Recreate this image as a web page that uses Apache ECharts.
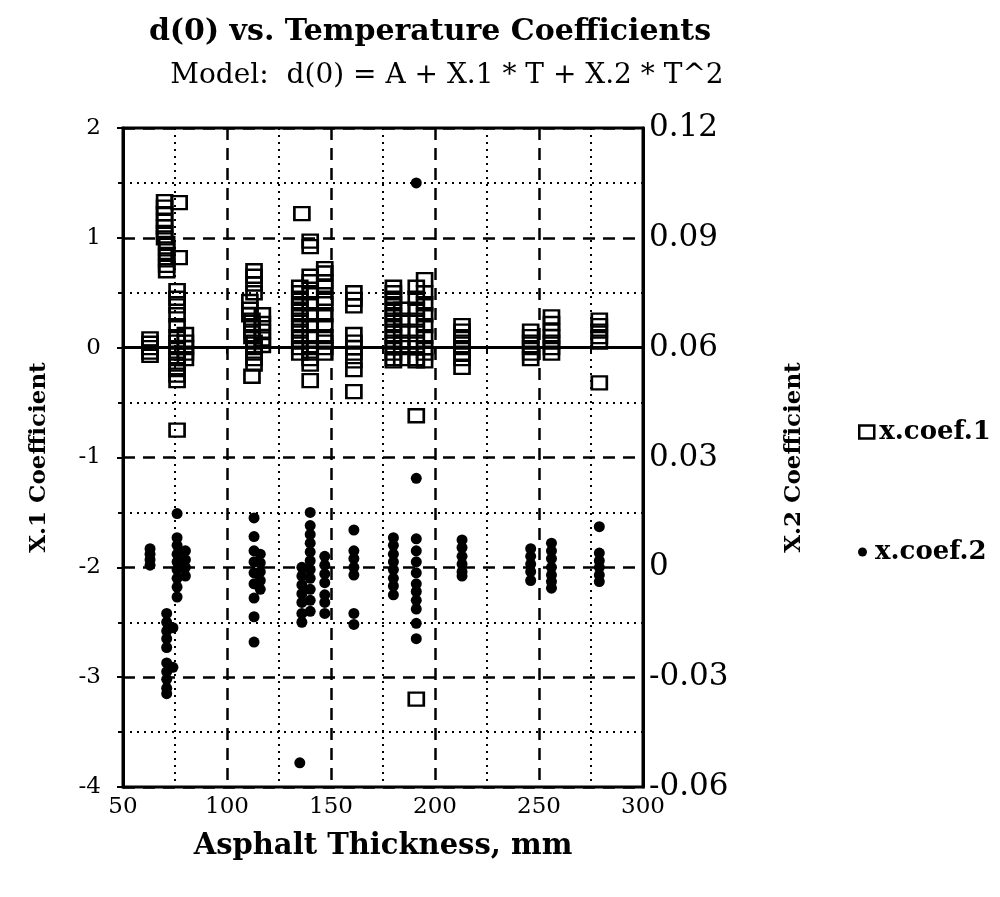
<!DOCTYPE html>
<html>
<head>
<meta charset="utf-8">
<script src="https://cdn.jsdelivr.net/npm/echarts@6/dist/echarts.min.js"></script>
<style>
html,body{margin:0;padding:0;background:#fff;}
#chart{width:1000px;height:897px;}
</style>
</head>
<body>
<div id="chart"></div>
<script>
// ---- data ----
const titleText = 'd(0) vs. Temperature Coefficients';
const subtitleText = 'Model:  d(0) = A + X.1 * T + X.2 * T^2';
const xTicks = [50, 100, 150, 200, 250, 300];
const leftTicks = [-4, -3, -2, -1, 0, 1, 2];
const rightTicks = [-0.06, -0.03, 0, 0.03, 0.06, 0.09, 0.12];

// x.coef.1 (left axis) : [thickness mm, coefficient]
const coef1_63  = [[63,0.08],[63,0.04],[63,0.0],[63,-0.04],[63,-0.07]];
const coef1_70  = [[70,1.33],[70,1.28],[70,1.22],[70,1.15],[70,1.1],[70,1.05],[70,1.0],[71,0.95],[71,0.9],[71,0.85],[71,0.8],[71,0.75],[71,0.7]];
const coef1_76  = [[77,1.32],[77,0.82],[76,0.52],[76,0.45],[76,0.38],[76,0.3],[76,0.2],[76,0.1],[76,0.05],[76,0.0],[76,-0.05],[76,-0.1],[76,-0.15],[76,-0.2],[76,-0.25],[76,-0.3],[76,-0.75]];
const coef1_80  = [[80,0.12],[80,0.05],[80,0.0],[80,-0.05],[80,-0.1]];
const coef1_113 = [[113,0.7],[113,0.65],[113,0.58],[113,0.5],[111,0.42],[111,0.35],[111,0.3],[112,0.25],[112,0.2],[112,0.15],[112,0.1],[113,0.05],[113,0.0],[113,-0.05],[113,-0.1],[113,-0.15],[112,-0.26]];
const coef1_117 = [[117,0.3],[117,0.22],[117,0.15],[117,0.08],[117,0.02]];
const coef1_136 = [[136,1.22],[135,0.55],[135,0.5],[135,0.45],[135,0.4],[135,0.35],[135,0.3],[135,0.25],[135,0.2],[135,0.15],[135,0.1],[135,0.05],[135,0.0],[135,-0.05]];
const coef1_140 = [[140,0.97],[140,0.92],[140,0.65],[140,0.6],[140,0.5],[140,0.4],[140,0.3],[140,0.2],[140,0.1],[140,0.0],[140,-0.05],[140,-0.1],[140,-0.15],[140,-0.3]];
const coef1_147 = [[147,0.72],[147,0.68],[147,0.6],[147,0.55],[147,0.45],[147,0.4],[147,0.3],[147,0.2],[147,0.1],[147,0.05],[147,0.0],[147,-0.05]];
const coef1_161 = [[161,0.5],[161,0.44],[161,0.38],[161,0.12],[161,0.05],[161,0.0],[161,-0.05],[161,-0.12],[161,-0.2],[161,-0.4]];
const coef1_180 = [[180,0.55],[180,0.5],[180,0.45],[180,0.4],[180,0.35],[180,0.3],[180,0.25],[180,0.2],[180,0.15],[180,0.1],[180,0.05],[180,0.0],[180,-0.05],[180,-0.1],[180,-0.12]];
const coef1_184 = [[184,0.35],[184,0.25],[184,0.15],[184,0.05],[184,0.0],[184,-0.1]];
const coef1_191 = [[191,0.55],[191,0.45],[191,0.35],[191,0.25],[191,0.15],[191,0.05],[191,0.0],[191,-0.1],[191,-0.12],[191,-0.62],[191,-3.2]];
const coef1_195 = [[195,0.62],[195,0.5],[195,0.4],[195,0.3],[195,0.2],[195,0.1],[195,0.0],[195,-0.05],[195,-0.12]];
const coef1_213 = [[213,0.2],[213,0.15],[213,0.1],[213,0.05],[213,0.0],[213,-0.05],[213,-0.1],[213,-0.18]];
const coef1_246 = [[246,0.15],[246,0.1],[246,0.05],[246,0.0],[246,-0.05],[246,-0.1]];
const coef1_256 = [[256,0.28],[256,0.22],[256,0.15],[256,0.1],[256,0.05],[256,0.0],[256,-0.05]];
const coef1_279 = [[279,0.25],[279,0.2],[279,0.15],[279,0.1],[279,0.05],[279,-0.32]];

// x.coef.2 (right axis) : [thickness mm, coefficient]
const coef2_63  = [[63,0.0051],[63,0.0036],[63,0.0021],[63,0.0006]];
const coef2_71  = [[71,-0.0126],[71,-0.015],[71,-0.0174],[71,-0.0195],[71,-0.0219],[71,-0.0261],[71,-0.0285],[71,-0.0306],[71,-0.033],[71,-0.0345],[74,-0.0165],[74,-0.0273]];
const coef2_76  = [[76,0.0147],[76,0.0081],[76,0.006],[76,0.0036],[76,0.0015],[76,-0.0006],[76,-0.003],[76,-0.0054],[76,-0.0081]];
const coef2_80  = [[80,0.0045],[80,0.0021],[80,0.0],[80,-0.0024]];
const coef2_113 = [[113,0.0135],[113,0.0084],[113,0.0045],[113,0.0015],[113,-0.0015],[113,-0.0045],[113,-0.0084],[113,-0.0135],[113,-0.0204]];
const coef2_116 = [[116,0.0036],[116,0.0012],[116,-0.0012],[116,-0.0036],[116,-0.006]];
const coef2_136 = [[136,0.0],[136,-0.0024],[136,-0.0048],[136,-0.0072],[136,-0.0096],[136,-0.0126],[136,-0.015],[135,-0.0534]];
const coef2_140 = [[140,0.015],[140,0.0114],[140,0.009],[140,0.0066],[140,0.0042],[140,0.0018],[140,-0.0006],[140,-0.003],[140,-0.006],[140,-0.009],[140,-0.012]];
const coef2_147 = [[147,0.003],[147,0.0006],[147,-0.0018],[147,-0.0042],[147,-0.0075],[147,-0.0096],[147,-0.0126]];
const coef2_161 = [[161,0.0102],[161,0.0045],[161,0.0024],[161,0.0],[161,-0.0021],[161,-0.0126],[161,-0.0156]];
const coef2_180 = [[180,0.0081],[180,0.006],[180,0.0036],[180,0.0015],[180,-0.0006],[180,-0.003],[180,-0.0051],[180,-0.0075]];
const coef2_191 = [[191,0.105],[191,0.0243],[191,0.0078],[191,0.0045],[191,0.0015],[191,-0.0015],[191,-0.0045],[191,-0.0066],[191,-0.009],[191,-0.0114],[191,-0.0153],[191,-0.0195]];
const coef2_213 = [[213,0.0075],[213,0.0054],[213,0.003],[213,0.0009],[213,-0.0012],[213,-0.0024]];
const coef2_246 = [[246,0.0051],[246,0.003],[246,0.0009],[246,-0.0012],[246,-0.0036]];
const coef2_256 = [[256,0.0066],[256,0.0045],[256,0.0024],[256,0.0],[256,-0.0021],[256,-0.0039],[256,-0.0057]];
const coef2_279 = [[279,0.0111],[279,0.0039],[279,0.0018],[279,0.0],[279,-0.0021],[279,-0.0039]];

const coef1 = [].concat(coef1_63, coef1_70, coef1_76, coef1_80, coef1_113, coef1_117, coef1_136, coef1_140, coef1_147,
  coef1_161, coef1_180, coef1_184, coef1_191, coef1_195, coef1_213, coef1_246, coef1_256, coef1_279);
const coef2 = [].concat(coef2_63, coef2_71, coef2_76, coef2_80, coef2_113, coef2_116, coef2_136, coef2_140, coef2_147,
  coef2_161, coef2_180, coef2_191, coef2_213, coef2_246, coef2_256, coef2_279);

const serif = '"DejaVu Serif", "Liberation Serif", serif';
const chart = echarts.init(document.getElementById('chart'), null, {renderer: 'canvas'});

const majorLine = {show: true, lineStyle: {color: '#000', width: 2.5, type: [12, 8]}};
const minorLine = {show: true, lineStyle: {color: '#000', width: 2, type: [2, 5]}};

chart.setOption({
  backgroundColor: '#fff',
  animation: false,
  title: [
    {text: titleText, left: 425, top: 12, textAlign: 'center',
     textStyle: {fontFamily: serif, fontWeight: 'bold', fontSize: 30, color: '#000'}},
    {text: subtitleText, left: 442, top: 57, textAlign: 'center',
     textStyle: {fontFamily: serif, fontWeight: 'normal', fontSize: 28, color: '#000'}}
  ],
  grid: {left: 123, right: 357, top: 128, bottom: 110, show: true, borderColor: '#000', borderWidth: 3, backgroundColor: 'transparent'},
  legend: [
    {data: [{name: 'x.coef.1', icon: 'rect'}], orient: 'vertical', left: 853, top: 414, itemWidth: 15, itemHeight: 13,
     itemGap: 8, textStyle: {fontFamily: serif, fontWeight: 'bold', fontSize: 26, color: '#000'},
     itemStyle: {color: 'transparent', borderColor: '#000', borderWidth: 2.5, opacity: 1}},
    {data: [{name: 'x.coef.2', icon: 'circle'}], orient: 'vertical', left: 853, top: 534, itemWidth: 15, itemHeight: 9,
     textStyle: {fontFamily: serif, fontWeight: 'bold', fontSize: 26, color: '#000'},
     itemStyle: {color: '#000', opacity: 1}}
  ],
  xAxis: {
    type: 'value', min: 50, max: 300, interval: 50,
    name: 'Asphalt Thickness, mm', nameLocation: 'middle', nameGap: 45,
    nameTextStyle: {fontFamily: serif, fontWeight: 'bold', fontSize: 29, color: '#000'},
    axisLine: {show: true, lineStyle: {color: '#000', width: 3}},
    axisTick: {show: true, length: 6, inside: false, lineStyle: {color: '#000', width: 2}},
    minorTick: {show: true, splitNumber: 2, length: 5, lineStyle: {color: '#000', width: 2}},
    axisLabel: {fontFamily: serif, fontSize: 23, color: '#000', margin: 9},
    splitLine: majorLine,
    minorSplitLine: minorLine
  },
  yAxis: [
    {
      type: 'value', min: -4, max: 2, interval: 1,
      name: 'X.1 Coefficient', nameLocation: 'middle', nameGap: 72, nameRotate: 90,
      nameTextStyle: {fontFamily: serif, fontWeight: 'bold', fontSize: 23, color: '#000'},
      axisLine: {show: true, lineStyle: {color: '#000', width: 3}},
      axisTick: {show: true, length: 6, lineStyle: {color: '#000', width: 2}},
      minorTick: {show: true, splitNumber: 2, length: 5, lineStyle: {color: '#000', width: 2}},
      axisLabel: {fontFamily: serif, fontSize: 23, color: '#000', margin: 22},
      splitLine: majorLine,
      minorSplitLine: minorLine
    },
    {
      type: 'value', min: -0.06, max: 0.12, interval: 0.03, position: 'right',
      name: 'X.2 Coefficient', nameLocation: 'middle', nameGap: 140, nameRotate: 90,
      nameTextStyle: {fontFamily: serif, fontWeight: 'bold', fontSize: 23, color: '#000'},
      axisLine: {show: true, lineStyle: {color: '#000', width: 3}},
      axisTick: {show: false},
      axisLabel: {fontFamily: serif, fontSize: 31, color: '#000', margin: 6,
        formatter: v => String(parseFloat(v.toFixed(2)))},
      splitLine: {show: false}
    }
  ],
  series: [
    {name: 'x.coef.1', type: 'scatter', yAxisIndex: 0, data: coef1, symbol: 'rect', symbolSize: [15, 13],
     itemStyle: {color: 'transparent', borderColor: '#000', borderWidth: 2.5, opacity: 1}, z: 3},
    {name: 'x.coef.2', type: 'scatter', yAxisIndex: 1, data: coef2, symbol: 'circle', symbolSize: 11,
     itemStyle: {color: '#000', opacity: 1}, z: 4}
  ]
});
</script>
</body>
</html>
